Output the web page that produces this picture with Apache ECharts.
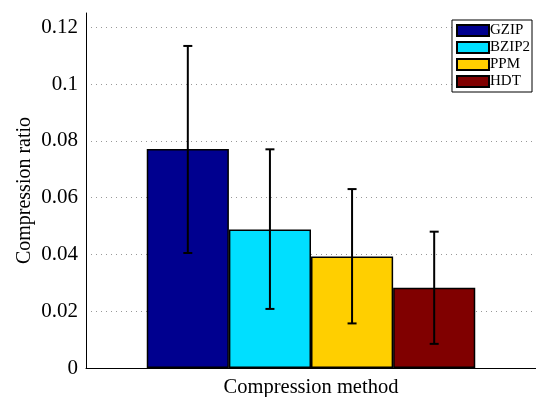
<!DOCTYPE html>
<html><head><meta charset="utf-8">
<script src="https://cdn.jsdelivr.net/npm/echarts@6/dist/echarts.min.js"></script>
<style>html,body{margin:0;padding:0;background:#fff}#c{width:536px;height:397px}</style>
</head><body><div id="c"></div>
<script>
const categories = ['Compression method'];
const methods = ['GZIP', 'BZIP2', 'PPM', 'HDT'];
const colors = ['#00008f', '#00dfff', '#ffcf00', '#800000'];
const means = [0.0771, 0.0488, 0.0393, 0.0283];
const errLow = [0.0405, 0.0208, 0.0157, 0.0085];
const errHigh = [0.1134, 0.0770, 0.0630, 0.0480];
const yTicks = [0, 0.02, 0.04, 0.06, 0.08, 0.1, 0.12];

const GAP = 0.27;
const FONT = 'Liberation Serif';

const barSeries = methods.map((m, i) => ({
  name: m, type: 'bar', data: [means[i]],
  barGap: '0%', barCategoryGap: (GAP * 100) + '%',
  itemStyle: { color: colors[i], borderColor: '#000', borderWidth: 1.5 },
  emphasis: { disabled: true }, animation: false
}));

const errData = methods.map((m, i) => [0, errLow[i], errHigh[i], i]);

const errSeries = {
  type: 'custom', name: 'err', data: errData, animation: false, z: 10,
  renderItem: function (params, api) {
    const idx = api.value(3);
    const band = api.size([1, 0])[0];
    const bw = band * (1 - GAP) / methods.length;
    const cx = api.coord([api.value(0), 0])[0] - 2 * bw + (idx + 0.5) * bw;
    const yl = api.coord([0, api.value(1)])[1];
    const yh = api.coord([0, api.value(2)])[1];
    const hw = 4.5;
    const st = { stroke: '#000', lineWidth: 2 };
    return { type: 'group', children: [
      { type: 'line', shape: { x1: cx, y1: yl, x2: cx, y2: yh }, style: st },
      { type: 'line', shape: { x1: cx - hw, y1: yl, x2: cx + hw, y2: yl }, style: st },
      { type: 'line', shape: { x1: cx - hw, y1: yh, x2: cx + hw, y2: yh }, style: st }
    ]};
  }
};

const chart = echarts.init(document.getElementById('c'), null, { renderer: 'canvas' });
chart.setOption({
  animation: false,
  textStyle: { fontFamily: FONT, color: '#000' },
  grid: { left: 86, right: 0, top: 13, bottom: 29, containLabel: false, outerBoundsMode: 'none' },
  legend: {
    data: methods, orient: 'vertical', right: 4, top: 20, icon: 'rect',
    backgroundColor: '#fff', borderColor: '#000', borderWidth: 1,
    padding: [3, 2, 3, 4], itemGap: 2, itemWidth: 32, itemHeight: 11,
    textStyle: { fontFamily: FONT, fontSize: 15, lineHeight: 13, color: '#000', padding: [0, 0, 0, -4] },
    selectedMode: false
  },
  xAxis: {
    type: 'category', data: categories,
    name: 'Compression method', nameLocation: 'middle', nameGap: 9,
    nameTextStyle: { fontFamily: FONT, fontSize: 20.5, color: '#000' },
    axisLabel: { show: false }, axisTick: { show: false },
    axisLine: { lineStyle: { color: '#000', width: 1 } }
  },
  yAxis: {
    type: 'value', min: 0, max: 0.125, interval: 0.02,
    name: 'Compression ratio', nameLocation: 'middle', nameGap: 51, nameMoveOverlap: false,
    nameTextStyle: { fontFamily: FONT, fontSize: 20, color: '#000' },
    axisLine: { show: true, lineStyle: { color: '#000', width: 1 } },
    axisTick: { show: false },
    axisLabel: { fontFamily: FONT, fontSize: 21, color: '#000', margin: 8, showMaxLabel: false,
      formatter: v => (yTicks.some(t => Math.abs(t - v) < 1e-9) ? String(+v.toFixed(2)) : '') },
    splitLine: { show: true, showMaxLine: false, lineStyle: { color: '#999', type: [1, 4], width: 1 } }
  },
  series: [...barSeries, errSeries]
});
</script></body></html>
